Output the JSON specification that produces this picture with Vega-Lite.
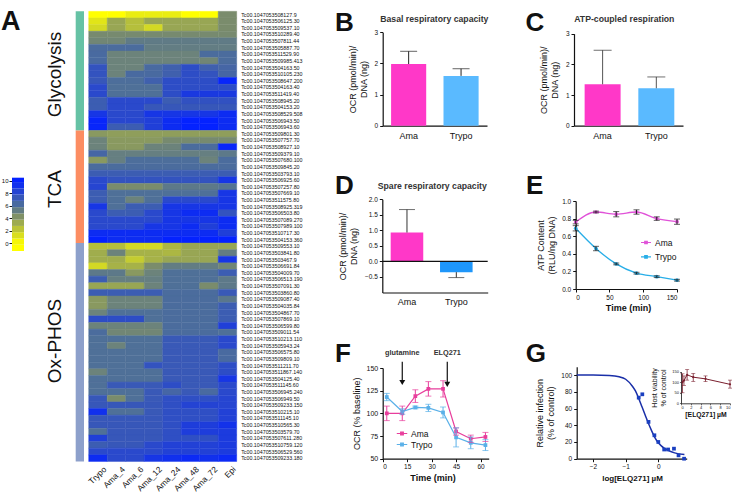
{"$schema":"https://vega.github.io/schema/vega-lite/v6.json","width":733,"height":493,"padding":0,"autosize":{"type":"none"},"background":"white",
"config":{"view":{"stroke":null},"font":"Liberation Sans","axis":{"grid":false,"domainColor":"#111","tickColor":"#111","labelColor":"#111","titleColor":"#111","labelFont":"Liberation Sans","titleFont":"Liberation Sans","titleFontWeight":"normal","labelFontWeight":"normal","titleFontSize":9,"labelFontSize":7,"tickSize":3,"domainWidth":1.2,"tickWidth":1},"legend":{"labelFont":"Liberation Sans","labelColor":"#111"},"text":{"font":"Liberation Sans","color":"#111"}},
"resolve":{"scale":{"x":"independent","y":"independent","color":"independent","stroke":"independent","shape":"independent"},"axis":{"x":"independent","y":"independent"},"legend":{"color":"independent"}},
"layer":[
{"data":{"values":[
{"g":"508127.9","c":"Trypo","v":0},{"g":"508127.9","c":"Ama_4","v":0},{"g":"508127.9","c":"Ama_6","v":0.7},{"g":"508127.9","c":"Ama_12","v":0.7},{"g":"508127.9","c":"Ama_24","v":0.7},{"g":"508127.9","c":"Ama_48","v":0},{"g":"508127.9","c":"Ama_72","v":0},{"g":"508127.9","c":"Epi","v":4.5},
{"g":"506125.30","c":"Trypo","v":1},{"g":"506125.30","c":"Ama_4","v":3.5},{"g":"506125.30","c":"Ama_6","v":2.5},{"g":"506125.30","c":"Ama_12","v":3.5},{"g":"506125.30","c":"Ama_24","v":3.5},{"g":"506125.30","c":"Ama_48","v":3.5},{"g":"506125.30","c":"Ama_72","v":3.5},{"g":"506125.30","c":"Epi","v":4.5},
{"g":"509537.10","c":"Trypo","v":1.5},{"g":"509537.10","c":"Ama_4","v":3.5},{"g":"509537.10","c":"Ama_6","v":2.5},{"g":"509537.10","c":"Ama_12","v":1.5},{"g":"509537.10","c":"Ama_24","v":3.5},{"g":"509537.10","c":"Ama_48","v":3.5},{"g":"509537.10","c":"Ama_72","v":3.5},{"g":"509537.10","c":"Epi","v":4.5},
{"g":"510289.40","c":"Trypo","v":4.6},{"g":"510289.40","c":"Ama_4","v":4.6},{"g":"510289.40","c":"Ama_6","v":4.6},{"g":"510289.40","c":"Ama_12","v":4.6},{"g":"510289.40","c":"Ama_24","v":4.6},{"g":"510289.40","c":"Ama_48","v":4.6},{"g":"510289.40","c":"Ama_72","v":4.6},{"g":"510289.40","c":"Epi","v":4.6},
{"g":"507811.44","c":"Trypo","v":4.8},{"g":"507811.44","c":"Ama_4","v":4.8},{"g":"507811.44","c":"Ama_6","v":5.4},{"g":"507811.44","c":"Ama_12","v":5.4},{"g":"507811.44","c":"Ama_24","v":5.4},{"g":"507811.44","c":"Ama_48","v":5.4},{"g":"507811.44","c":"Ama_72","v":5.4},{"g":"507811.44","c":"Epi","v":5.4},
{"g":"505887.70","c":"Trypo","v":6.2},{"g":"505887.70","c":"Ama_4","v":6.2},{"g":"505887.70","c":"Ama_6","v":6.2},{"g":"505887.70","c":"Ama_12","v":5.3},{"g":"505887.70","c":"Ama_24","v":5.3},{"g":"505887.70","c":"Ama_48","v":5.3},{"g":"505887.70","c":"Ama_72","v":5.3},{"g":"505887.70","c":"Epi","v":5.3},
{"g":"511529.90","c":"Trypo","v":6.3},{"g":"511529.90","c":"Ama_4","v":5},{"g":"511529.90","c":"Ama_6","v":5},{"g":"511529.90","c":"Ama_12","v":5},{"g":"511529.90","c":"Ama_24","v":5},{"g":"511529.90","c":"Ama_48","v":5},{"g":"511529.90","c":"Ama_72","v":6.2},{"g":"511529.90","c":"Epi","v":6.2},
{"g":"509985.413","c":"Trypo","v":6.3},{"g":"509985.413","c":"Ama_4","v":5},{"g":"509985.413","c":"Ama_6","v":5},{"g":"509985.413","c":"Ama_12","v":5},{"g":"509985.413","c":"Ama_24","v":5},{"g":"509985.413","c":"Ama_48","v":5},{"g":"509985.413","c":"Ama_72","v":4.8},{"g":"509985.413","c":"Epi","v":6.2},
{"g":"504163.50","c":"Trypo","v":7.5},{"g":"504163.50","c":"Ama_4","v":5},{"g":"504163.50","c":"Ama_6","v":5},{"g":"504163.50","c":"Ama_12","v":6.3},{"g":"504163.50","c":"Ama_24","v":6.8},{"g":"504163.50","c":"Ama_48","v":7.8},{"g":"504163.50","c":"Ama_72","v":6.8},{"g":"504163.50","c":"Epi","v":6.5},
{"g":"510105.230","c":"Trypo","v":7.5},{"g":"510105.230","c":"Ama_4","v":5},{"g":"510105.230","c":"Ama_6","v":6.3},{"g":"510105.230","c":"Ama_12","v":6.3},{"g":"510105.230","c":"Ama_24","v":6.8},{"g":"510105.230","c":"Ama_48","v":7.8},{"g":"510105.230","c":"Ama_72","v":7.5},{"g":"510105.230","c":"Epi","v":6.5},
{"g":"508647.200","c":"Trypo","v":7.3},{"g":"508647.200","c":"Ama_4","v":6.1},{"g":"508647.200","c":"Ama_6","v":6.1},{"g":"508647.200","c":"Ama_12","v":6.8},{"g":"508647.200","c":"Ama_24","v":7.8},{"g":"508647.200","c":"Ama_48","v":7.8},{"g":"508647.200","c":"Ama_72","v":7.8},{"g":"508647.200","c":"Epi","v":9.8},
{"g":"504163.40","c":"Trypo","v":8},{"g":"504163.40","c":"Ama_4","v":6},{"g":"504163.40","c":"Ama_6","v":6},{"g":"504163.40","c":"Ama_12","v":6},{"g":"504163.40","c":"Ama_24","v":7.8},{"g":"504163.40","c":"Ama_48","v":7.8},{"g":"504163.40","c":"Ama_72","v":7.8},{"g":"504163.40","c":"Epi","v":7.8},
{"g":"511419.40","c":"Trypo","v":8},{"g":"511419.40","c":"Ama_4","v":6},{"g":"511419.40","c":"Ama_6","v":6},{"g":"511419.40","c":"Ama_12","v":6},{"g":"511419.40","c":"Ama_24","v":7.8},{"g":"511419.40","c":"Ama_48","v":8.8},{"g":"511419.40","c":"Ama_72","v":8.8},{"g":"511419.40","c":"Epi","v":8.8},
{"g":"508945.20","c":"Trypo","v":7},{"g":"508945.20","c":"Ama_4","v":8},{"g":"508945.20","c":"Ama_6","v":8},{"g":"508945.20","c":"Ama_12","v":8},{"g":"508945.20","c":"Ama_24","v":7},{"g":"508945.20","c":"Ama_48","v":7.6},{"g":"508945.20","c":"Ama_72","v":7.6},{"g":"508945.20","c":"Epi","v":7.6},
{"g":"504153.20","c":"Trypo","v":7},{"g":"504153.20","c":"Ama_4","v":8},{"g":"504153.20","c":"Ama_6","v":8},{"g":"504153.20","c":"Ama_12","v":7.3},{"g":"504153.20","c":"Ama_24","v":7.3},{"g":"504153.20","c":"Ama_48","v":7.3},{"g":"504153.20","c":"Ama_72","v":7.3},{"g":"504153.20","c":"Epi","v":7.3},
{"g":"508529.508","c":"Trypo","v":9},{"g":"508529.508","c":"Ama_4","v":8},{"g":"508529.508","c":"Ama_6","v":8},{"g":"508529.508","c":"Ama_12","v":9},{"g":"508529.508","c":"Ama_24","v":9},{"g":"508529.508","c":"Ama_48","v":9},{"g":"508529.508","c":"Ama_72","v":9},{"g":"508529.508","c":"Epi","v":9.5},
{"g":"506943.50","c":"Trypo","v":9.8},{"g":"506943.50","c":"Ama_4","v":8.1},{"g":"506943.50","c":"Ama_6","v":8.1},{"g":"506943.50","c":"Ama_12","v":8.5},{"g":"506943.50","c":"Ama_24","v":9.5},{"g":"506943.50","c":"Ama_48","v":10},{"g":"506943.50","c":"Ama_72","v":10},{"g":"506943.50","c":"Epi","v":9.5},
{"g":"506943.60","c":"Trypo","v":9.8},{"g":"506943.60","c":"Ama_4","v":7},{"g":"506943.60","c":"Ama_6","v":7},{"g":"506943.60","c":"Ama_12","v":8.5},{"g":"506943.60","c":"Ama_24","v":9.5},{"g":"506943.60","c":"Ama_48","v":10},{"g":"506943.60","c":"Ama_72","v":10},{"g":"506943.60","c":"Epi","v":9.5},
{"g":"509801.30","c":"Trypo","v":4},{"g":"509801.30","c":"Ama_4","v":3.8},{"g":"509801.30","c":"Ama_6","v":3.8},{"g":"509801.30","c":"Ama_12","v":3.8},{"g":"509801.30","c":"Ama_24","v":3.8},{"g":"509801.30","c":"Ama_48","v":3.8},{"g":"509801.30","c":"Ama_72","v":3.8},{"g":"509801.30","c":"Epi","v":3.8},
{"g":"507757.70","c":"Trypo","v":5},{"g":"507757.70","c":"Ama_4","v":4},{"g":"507757.70","c":"Ama_6","v":4},{"g":"507757.70","c":"Ama_12","v":4},{"g":"507757.70","c":"Ama_24","v":4.6},{"g":"507757.70","c":"Ama_48","v":4.6},{"g":"507757.70","c":"Ama_72","v":4.6},{"g":"507757.70","c":"Epi","v":4.6},
{"g":"508927.10","c":"Trypo","v":5},{"g":"508927.10","c":"Ama_4","v":4},{"g":"508927.10","c":"Ama_6","v":4},{"g":"508927.10","c":"Ama_12","v":5},{"g":"508927.10","c":"Ama_24","v":5},{"g":"508927.10","c":"Ama_48","v":6.2},{"g":"508927.10","c":"Ama_72","v":6.2},{"g":"508927.10","c":"Epi","v":9.8},
{"g":"509379.10","c":"Trypo","v":6.5},{"g":"509379.10","c":"Ama_4","v":5.2},{"g":"509379.10","c":"Ama_6","v":5.2},{"g":"509379.10","c":"Ama_12","v":5.2},{"g":"509379.10","c":"Ama_24","v":5.2},{"g":"509379.10","c":"Ama_48","v":5.2},{"g":"509379.10","c":"Ama_72","v":5.2},{"g":"509379.10","c":"Epi","v":5.5},
{"g":"507680.100","c":"Trypo","v":4},{"g":"507680.100","c":"Ama_4","v":5.2},{"g":"507680.100","c":"Ama_6","v":6.1},{"g":"507680.100","c":"Ama_12","v":6.1},{"g":"507680.100","c":"Ama_24","v":6.1},{"g":"507680.100","c":"Ama_48","v":6.1},{"g":"507680.100","c":"Ama_72","v":5},{"g":"507680.100","c":"Epi","v":6.2},
{"g":"509845.20","c":"Trypo","v":6.2},{"g":"509845.20","c":"Ama_4","v":6.2},{"g":"509845.20","c":"Ama_6","v":6.2},{"g":"509845.20","c":"Ama_12","v":6.2},{"g":"509845.20","c":"Ama_24","v":6.2},{"g":"509845.20","c":"Ama_48","v":6.2},{"g":"509845.20","c":"Ama_72","v":6.2},{"g":"509845.20","c":"Epi","v":6.2},
{"g":"503793.10","c":"Trypo","v":7},{"g":"503793.10","c":"Ama_4","v":7},{"g":"503793.10","c":"Ama_6","v":7},{"g":"503793.10","c":"Ama_12","v":7},{"g":"503793.10","c":"Ama_24","v":7},{"g":"503793.10","c":"Ama_48","v":7},{"g":"503793.10","c":"Ama_72","v":7},{"g":"503793.10","c":"Epi","v":7},
{"g":"506925.60","c":"Trypo","v":8},{"g":"506925.60","c":"Ama_4","v":7.5},{"g":"506925.60","c":"Ama_6","v":7.5},{"g":"506925.60","c":"Ama_12","v":7.5},{"g":"506925.60","c":"Ama_24","v":7.5},{"g":"506925.60","c":"Ama_48","v":7.5},{"g":"506925.60","c":"Ama_72","v":7.5},{"g":"506925.60","c":"Epi","v":9},
{"g":"507257.80","c":"Trypo","v":8.2},{"g":"507257.80","c":"Ama_4","v":4.5},{"g":"507257.80","c":"Ama_6","v":4.5},{"g":"507257.80","c":"Ama_12","v":4.5},{"g":"507257.80","c":"Ama_24","v":5.5},{"g":"507257.80","c":"Ama_48","v":5.5},{"g":"507257.80","c":"Ama_72","v":5.5},{"g":"507257.80","c":"Epi","v":5.8},
{"g":"507669.10","c":"Trypo","v":7},{"g":"507669.10","c":"Ama_4","v":6},{"g":"507669.10","c":"Ama_6","v":6},{"g":"507669.10","c":"Ama_12","v":6},{"g":"507669.10","c":"Ama_24","v":6},{"g":"507669.10","c":"Ama_48","v":6},{"g":"507669.10","c":"Ama_72","v":6},{"g":"507669.10","c":"Epi","v":9},
{"g":"511575.80","c":"Trypo","v":7},{"g":"511575.80","c":"Ama_4","v":6},{"g":"511575.80","c":"Ama_6","v":5},{"g":"511575.80","c":"Ama_12","v":6},{"g":"511575.80","c":"Ama_24","v":8},{"g":"511575.80","c":"Ama_48","v":8},{"g":"511575.80","c":"Ama_72","v":8},{"g":"511575.80","c":"Epi","v":9},
{"g":"508925.319","c":"Trypo","v":9},{"g":"508925.319","c":"Ama_4","v":6},{"g":"508925.319","c":"Ama_6","v":7},{"g":"508925.319","c":"Ama_12","v":7},{"g":"508925.319","c":"Ama_24","v":9},{"g":"508925.319","c":"Ama_48","v":9},{"g":"508925.319","c":"Ama_72","v":9},{"g":"508925.319","c":"Epi","v":9},
{"g":"506503.80","c":"Trypo","v":8},{"g":"506503.80","c":"Ama_4","v":7},{"g":"506503.80","c":"Ama_6","v":7},{"g":"506503.80","c":"Ama_12","v":8},{"g":"506503.80","c":"Ama_24","v":9},{"g":"506503.80","c":"Ama_48","v":9.5},{"g":"506503.80","c":"Ama_72","v":9.5},{"g":"506503.80","c":"Epi","v":7.5},
{"g":"507089.270","c":"Trypo","v":8},{"g":"507089.270","c":"Ama_4","v":8},{"g":"507089.270","c":"Ama_6","v":8},{"g":"507089.270","c":"Ama_12","v":8},{"g":"507089.270","c":"Ama_24","v":9},{"g":"507089.270","c":"Ama_48","v":9},{"g":"507089.270","c":"Ama_72","v":9},{"g":"507089.270","c":"Epi","v":9.5},
{"g":"507989.100","c":"Trypo","v":8},{"g":"507989.100","c":"Ama_4","v":8},{"g":"507989.100","c":"Ama_6","v":8},{"g":"507989.100","c":"Ama_12","v":9},{"g":"507989.100","c":"Ama_24","v":9},{"g":"507989.100","c":"Ama_48","v":9.5},{"g":"507989.100","c":"Ama_72","v":8.5},{"g":"507989.100","c":"Epi","v":9.5},
{"g":"510717.30","c":"Trypo","v":9.5},{"g":"510717.30","c":"Ama_4","v":9.5},{"g":"510717.30","c":"Ama_6","v":9.5},{"g":"510717.30","c":"Ama_12","v":9.5},{"g":"510717.30","c":"Ama_24","v":9.5},{"g":"510717.30","c":"Ama_48","v":9.5},{"g":"510717.30","c":"Ama_72","v":9.5},{"g":"510717.30","c":"Epi","v":8.5},
{"g":"504153.360","c":"Trypo","v":10},{"g":"504153.360","c":"Ama_4","v":9.5},{"g":"504153.360","c":"Ama_6","v":9.5},{"g":"504153.360","c":"Ama_12","v":9.5},{"g":"504153.360","c":"Ama_24","v":10},{"g":"504153.360","c":"Ama_48","v":10},{"g":"504153.360","c":"Ama_72","v":10},{"g":"504153.360","c":"Epi","v":10},
{"g":"509553.10","c":"Trypo","v":2.5},{"g":"509553.10","c":"Ama_4","v":2.5},{"g":"509553.10","c":"Ama_6","v":1.5},{"g":"509553.10","c":"Ama_12","v":1.5},{"g":"509553.10","c":"Ama_24","v":2.8},{"g":"509553.10","c":"Ama_48","v":3.5},{"g":"509553.10","c":"Ama_72","v":3.5},{"g":"509553.10","c":"Epi","v":3.5},
{"g":"503841.80","c":"Trypo","v":3.2},{"g":"503841.80","c":"Ama_4","v":5},{"g":"503841.80","c":"Ama_6","v":3},{"g":"503841.80","c":"Ama_12","v":3},{"g":"503841.80","c":"Ama_24","v":2.8},{"g":"503841.80","c":"Ama_48","v":3.5},{"g":"503841.80","c":"Ama_72","v":3.5},{"g":"503841.80","c":"Epi","v":5.3},
{"g":"503467.9","c":"Trypo","v":3.2},{"g":"503467.9","c":"Ama_4","v":3.2},{"g":"503467.9","c":"Ama_6","v":2},{"g":"503467.9","c":"Ama_12","v":3},{"g":"503467.9","c":"Ama_24","v":3.5},{"g":"503467.9","c":"Ama_48","v":3.5},{"g":"503467.9","c":"Ama_72","v":3.5},{"g":"503467.9","c":"Epi","v":9},
{"g":"506691.84","c":"Trypo","v":1.5},{"g":"506691.84","c":"Ama_4","v":3},{"g":"506691.84","c":"Ama_6","v":3},{"g":"506691.84","c":"Ama_12","v":4.5},{"g":"506691.84","c":"Ama_24","v":5.3},{"g":"506691.84","c":"Ama_48","v":5.3},{"g":"506691.84","c":"Ama_72","v":5.3},{"g":"506691.84","c":"Epi","v":4.8},
{"g":"504009.70","c":"Trypo","v":5.5},{"g":"504009.70","c":"Ama_4","v":5.5},{"g":"504009.70","c":"Ama_6","v":4},{"g":"504009.70","c":"Ama_12","v":5},{"g":"504009.70","c":"Ama_24","v":6},{"g":"504009.70","c":"Ama_48","v":6},{"g":"504009.70","c":"Ama_72","v":6},{"g":"504009.70","c":"Epi","v":7},
{"g":"506513.190","c":"Trypo","v":7},{"g":"506513.190","c":"Ama_4","v":5.2},{"g":"506513.190","c":"Ama_6","v":5.2},{"g":"506513.190","c":"Ama_12","v":5.2},{"g":"506513.190","c":"Ama_24","v":6},{"g":"506513.190","c":"Ama_48","v":6},{"g":"506513.190","c":"Ama_72","v":6},{"g":"506513.190","c":"Epi","v":5.5},
{"g":"507091.30","c":"Trypo","v":3.5},{"g":"507091.30","c":"Ama_4","v":3.5},{"g":"507091.30","c":"Ama_6","v":3.5},{"g":"507091.30","c":"Ama_12","v":5},{"g":"507091.30","c":"Ama_24","v":6},{"g":"507091.30","c":"Ama_48","v":6},{"g":"507091.30","c":"Ama_72","v":4.5},{"g":"507091.30","c":"Epi","v":5.5},
{"g":"503860.80","c":"Trypo","v":7},{"g":"503860.80","c":"Ama_4","v":7},{"g":"503860.80","c":"Ama_6","v":7},{"g":"503860.80","c":"Ama_12","v":7},{"g":"503860.80","c":"Ama_24","v":6.2},{"g":"503860.80","c":"Ama_48","v":6.2},{"g":"503860.80","c":"Ama_72","v":6.2},{"g":"503860.80","c":"Epi","v":7.2},
{"g":"509087.40","c":"Trypo","v":4},{"g":"509087.40","c":"Ama_4","v":5},{"g":"509087.40","c":"Ama_6","v":5},{"g":"509087.40","c":"Ama_12","v":5},{"g":"509087.40","c":"Ama_24","v":6.2},{"g":"509087.40","c":"Ama_48","v":6.2},{"g":"509087.40","c":"Ama_72","v":6.2},{"g":"509087.40","c":"Epi","v":5.6},
{"g":"504035.84","c":"Trypo","v":4},{"g":"504035.84","c":"Ama_4","v":5},{"g":"504035.84","c":"Ama_6","v":5},{"g":"504035.84","c":"Ama_12","v":5},{"g":"504035.84","c":"Ama_24","v":6.2},{"g":"504035.84","c":"Ama_48","v":6.2},{"g":"504035.84","c":"Ama_72","v":6.2},{"g":"504035.84","c":"Epi","v":7},
{"g":"504867.70","c":"Trypo","v":5},{"g":"504867.70","c":"Ama_4","v":6},{"g":"504867.70","c":"Ama_6","v":6},{"g":"504867.70","c":"Ama_12","v":6},{"g":"504867.70","c":"Ama_24","v":6.2},{"g":"504867.70","c":"Ama_48","v":6.2},{"g":"504867.70","c":"Ama_72","v":6.2},{"g":"504867.70","c":"Epi","v":7},
{"g":"507869.10","c":"Trypo","v":7.8},{"g":"507869.10","c":"Ama_4","v":7.8},{"g":"507869.10","c":"Ama_6","v":7.8},{"g":"507869.10","c":"Ama_12","v":6},{"g":"507869.10","c":"Ama_24","v":6.2},{"g":"507869.10","c":"Ama_48","v":6.2},{"g":"507869.10","c":"Ama_72","v":6.2},{"g":"507869.10","c":"Epi","v":7},
{"g":"506599.80","c":"Trypo","v":5},{"g":"506599.80","c":"Ama_4","v":5},{"g":"506599.80","c":"Ama_6","v":5},{"g":"506599.80","c":"Ama_12","v":5},{"g":"506599.80","c":"Ama_24","v":6.2},{"g":"506599.80","c":"Ama_48","v":6.2},{"g":"506599.80","c":"Ama_72","v":6.2},{"g":"506599.80","c":"Epi","v":8.5},
{"g":"509011.54","c":"Trypo","v":6.2},{"g":"509011.54","c":"Ama_4","v":4.8},{"g":"509011.54","c":"Ama_6","v":4.8},{"g":"509011.54","c":"Ama_12","v":4.8},{"g":"509011.54","c":"Ama_24","v":6.2},{"g":"509011.54","c":"Ama_48","v":6.2},{"g":"509011.54","c":"Ama_72","v":6.2},{"g":"509011.54","c":"Epi","v":6},
{"g":"510213.110","c":"Trypo","v":6},{"g":"510213.110","c":"Ama_4","v":6},{"g":"510213.110","c":"Ama_6","v":6},{"g":"510213.110","c":"Ama_12","v":6},{"g":"510213.110","c":"Ama_24","v":7.2},{"g":"510213.110","c":"Ama_48","v":7.2},{"g":"510213.110","c":"Ama_72","v":7.2},{"g":"510213.110","c":"Epi","v":8},
{"g":"505943.24","c":"Trypo","v":6},{"g":"505943.24","c":"Ama_4","v":5},{"g":"505943.24","c":"Ama_6","v":6},{"g":"505943.24","c":"Ama_12","v":6},{"g":"505943.24","c":"Ama_24","v":7.2},{"g":"505943.24","c":"Ama_48","v":7.2},{"g":"505943.24","c":"Ama_72","v":7.2},{"g":"505943.24","c":"Epi","v":8},
{"g":"506575.80","c":"Trypo","v":6},{"g":"506575.80","c":"Ama_4","v":6},{"g":"506575.80","c":"Ama_6","v":6},{"g":"506575.80","c":"Ama_12","v":6},{"g":"506575.80","c":"Ama_24","v":7.2},{"g":"506575.80","c":"Ama_48","v":7.2},{"g":"506575.80","c":"Ama_72","v":7.2},{"g":"506575.80","c":"Epi","v":6.3},
{"g":"509809.10","c":"Trypo","v":6},{"g":"509809.10","c":"Ama_4","v":6},{"g":"509809.10","c":"Ama_6","v":6},{"g":"509809.10","c":"Ama_12","v":6},{"g":"509809.10","c":"Ama_24","v":7.2},{"g":"509809.10","c":"Ama_48","v":7.2},{"g":"509809.10","c":"Ama_72","v":7.2},{"g":"509809.10","c":"Epi","v":6.3},
{"g":"511211.70","c":"Trypo","v":6},{"g":"511211.70","c":"Ama_4","v":6},{"g":"511211.70","c":"Ama_6","v":6},{"g":"511211.70","c":"Ama_12","v":7.5},{"g":"511211.70","c":"Ama_24","v":7.2},{"g":"511211.70","c":"Ama_48","v":7.2},{"g":"511211.70","c":"Ama_72","v":7.2},{"g":"511211.70","c":"Epi","v":7.8},
{"g":"511867.140","c":"Trypo","v":5},{"g":"511867.140","c":"Ama_4","v":6},{"g":"511867.140","c":"Ama_6","v":6},{"g":"511867.140","c":"Ama_12","v":6},{"g":"511867.140","c":"Ama_24","v":7.2},{"g":"511867.140","c":"Ama_48","v":7.2},{"g":"511867.140","c":"Ama_72","v":7.2},{"g":"511867.140","c":"Epi","v":7.8},
{"g":"504125.40","c":"Trypo","v":6},{"g":"504125.40","c":"Ama_4","v":6},{"g":"504125.40","c":"Ama_6","v":6},{"g":"504125.40","c":"Ama_12","v":6},{"g":"504125.40","c":"Ama_24","v":7.2},{"g":"504125.40","c":"Ama_48","v":7.2},{"g":"504125.40","c":"Ama_72","v":7.2},{"g":"504125.40","c":"Epi","v":9},
{"g":"511145.60","c":"Trypo","v":6},{"g":"511145.60","c":"Ama_4","v":7.2},{"g":"511145.60","c":"Ama_6","v":7.2},{"g":"511145.60","c":"Ama_12","v":7.2},{"g":"511145.60","c":"Ama_24","v":7.8},{"g":"511145.60","c":"Ama_48","v":7.2},{"g":"511145.60","c":"Ama_72","v":7.2},{"g":"511145.60","c":"Epi","v":8},
{"g":"506945.240","c":"Trypo","v":6},{"g":"506945.240","c":"Ama_4","v":6},{"g":"506945.240","c":"Ama_6","v":6},{"g":"506945.240","c":"Ama_12","v":7.2},{"g":"506945.240","c":"Ama_24","v":6.5},{"g":"506945.240","c":"Ama_48","v":7.2},{"g":"506945.240","c":"Ama_72","v":6.3},{"g":"506945.240","c":"Epi","v":8},
{"g":"506949.50","c":"Trypo","v":7.3},{"g":"506949.50","c":"Ama_4","v":4.5},{"g":"506949.50","c":"Ama_6","v":6},{"g":"506949.50","c":"Ama_12","v":7.2},{"g":"506949.50","c":"Ama_24","v":7.7},{"g":"506949.50","c":"Ama_48","v":7.7},{"g":"506949.50","c":"Ama_72","v":7.7},{"g":"506949.50","c":"Epi","v":8.2},
{"g":"509233.150","c":"Trypo","v":7.3},{"g":"509233.150","c":"Ama_4","v":7.3},{"g":"509233.150","c":"Ama_6","v":7.3},{"g":"509233.150","c":"Ama_12","v":7.3},{"g":"509233.150","c":"Ama_24","v":7.7},{"g":"509233.150","c":"Ama_48","v":8.3},{"g":"509233.150","c":"Ama_72","v":8.3},{"g":"509233.150","c":"Epi","v":8.2},
{"g":"510215.10","c":"Trypo","v":9.3},{"g":"510215.10","c":"Ama_4","v":6},{"g":"510215.10","c":"Ama_6","v":6},{"g":"510215.10","c":"Ama_12","v":7.2},{"g":"510215.10","c":"Ama_24","v":7.7},{"g":"510215.10","c":"Ama_48","v":7.7},{"g":"510215.10","c":"Ama_72","v":7.7},{"g":"510215.10","c":"Epi","v":8.4},
{"g":"511145.10","c":"Trypo","v":7.3},{"g":"511145.10","c":"Ama_4","v":7.3},{"g":"511145.10","c":"Ama_6","v":7.3},{"g":"511145.10","c":"Ama_12","v":7.3},{"g":"511145.10","c":"Ama_24","v":7.7},{"g":"511145.10","c":"Ama_48","v":7.7},{"g":"511145.10","c":"Ama_72","v":7.7},{"g":"511145.10","c":"Epi","v":8.4},
{"g":"510565.30","c":"Trypo","v":7.3},{"g":"510565.30","c":"Ama_4","v":7.3},{"g":"510565.30","c":"Ama_6","v":7.3},{"g":"510565.30","c":"Ama_12","v":7.3},{"g":"510565.30","c":"Ama_24","v":7.7},{"g":"510565.30","c":"Ama_48","v":8.6},{"g":"510565.30","c":"Ama_72","v":8.6},{"g":"510565.30","c":"Epi","v":9.2},
{"g":"503579.70","c":"Trypo","v":6},{"g":"503579.70","c":"Ama_4","v":7.3},{"g":"503579.70","c":"Ama_6","v":7.3},{"g":"503579.70","c":"Ama_12","v":7.3},{"g":"503579.70","c":"Ama_24","v":7.7},{"g":"503579.70","c":"Ama_48","v":8.6},{"g":"503579.70","c":"Ama_72","v":8.6},{"g":"503579.70","c":"Epi","v":8.7},
{"g":"507611.280","c":"Trypo","v":8.5},{"g":"507611.280","c":"Ama_4","v":7.3},{"g":"507611.280","c":"Ama_6","v":7.3},{"g":"507611.280","c":"Ama_12","v":7.3},{"g":"507611.280","c":"Ama_24","v":7.7},{"g":"507611.280","c":"Ama_48","v":7.7},{"g":"507611.280","c":"Ama_72","v":7.7},{"g":"507611.280","c":"Epi","v":8.7},
{"g":"510759.120","c":"Trypo","v":7},{"g":"510759.120","c":"Ama_4","v":7.3},{"g":"510759.120","c":"Ama_6","v":7.3},{"g":"510759.120","c":"Ama_12","v":8},{"g":"510759.120","c":"Ama_24","v":8.4},{"g":"510759.120","c":"Ama_48","v":8.4},{"g":"510759.120","c":"Ama_72","v":8.4},{"g":"510759.120","c":"Epi","v":8.7},
{"g":"506529.560","c":"Trypo","v":8},{"g":"506529.560","c":"Ama_4","v":8},{"g":"506529.560","c":"Ama_6","v":8},{"g":"506529.560","c":"Ama_12","v":8},{"g":"506529.560","c":"Ama_24","v":8.4},{"g":"506529.560","c":"Ama_48","v":8.4},{"g":"506529.560","c":"Ama_72","v":8.4},{"g":"506529.560","c":"Epi","v":8.7},
{"g":"509233.180","c":"Trypo","v":9.5},{"g":"509233.180","c":"Ama_4","v":8},{"g":"509233.180","c":"Ama_6","v":8},{"g":"509233.180","c":"Ama_12","v":9},{"g":"509233.180","c":"Ama_24","v":9.3},{"g":"509233.180","c":"Ama_48","v":9.6},{"g":"509233.180","c":"Ama_72","v":9.3},{"g":"509233.180","c":"Epi","v":9.6}
]},"mark":{"type":"rect","strokeWidth":0.4},"encoding":{
"x":{"field":"c","type":"nominal","sort":null,"scale":{"range":[88.7,236.7],"paddingInner":0,"paddingOuter":0},"axis":{"orient":"bottom","offset":-31.5,"title":null,"labelAngle":-45,"labelAlign":"right","labelBaseline":"top","labelFontSize":8.3,"labelOffset":4,"labelPadding":3,"ticks":false,"domain":false}},
"y":{"field":"g","type":"nominal","sort":null,"scale":{"range":[11.3,461.5],"paddingInner":0,"paddingOuter":0},"axis":{"orient":"right","offset":-496.3,"title":null,"labelExpr":"'Tc00.1047053' + datum.label","labelFontSize":5.3,"labelOverlap":false,"labelPadding":4,"labelLimit":120,"ticks":false,"domain":false}},
"color":{"field":"v","type":"quantitative","scale":{"domain":[0,4.5,6,10],"range":["#ffff00","#7a8c6c","#4f7098","#0422ff"],"clamp":true,"interpolate":"rgb"},"legend":null},
"stroke":{"field":"v","type":"quantitative","scale":{"domain":[0,4.5,6,10],"range":["#ffff00","#7a8c6c","#4f7098","#0422ff"],"clamp":true,"interpolate":"rgb"},"legend":null}}},

{"data":{"values":[{"path":"Glycolysis","n0":0,"n1":18,"mid":9.55},{"path":"TCA","n0":18,"n1":35,"mid":26.85},{"path":"Ox-PHOS","n0":35,"n1":68,"mid":49.8}]},
"encoding":{"x":{"datum":0,"type":"quantitative","scale":{"domain":[0,1],"range":[75.7,84]},"axis":null},"y":{"field":"n0","type":"quantitative","scale":{"domain":[0,68],"range":[11.3,461.5]},"axis":null}},
"layer":[
{"mark":{"type":"rect"},"encoding":{"x2":{"datum":1},"y2":{"field":"n1"},"color":{"field":"path","type":"nominal","sort":null,"scale":{"range":["#66c2a5","#fc8d62","#8da0cb"]},"legend":null}}},
{"mark":{"type":"text","angle":270,"fontSize":19,"align":"center","baseline":"middle"},"encoding":{"x":{"datum":-2.5,"type":"quantitative","axis":null},"y":{"field":"mid","type":"quantitative","axis":null},"text":{"field":"path"}}},
{"data":{"values":[{"t":"A","n0":0}]},"mark":{"type":"text","align":"left","fontSize":27,"fontWeight":"bold","dx":-74.7,"dy":10.7},"encoding":{"text":{"field":"t"}}}
]},

{"data":{"values":[{"v":0,"v0":-1.2,"v1":-0.2},{"v":0.3,"v0":-0.2,"v1":0.8},{"v":1.3,"v0":0.8,"v1":1.8},{"v":2.3,"v0":1.8,"v1":2.8},{"v":3.3,"v0":2.8,"v1":3.8},{"v":4.3,"v0":3.8,"v1":4.8},{"v":5.3,"v0":4.8,"v1":5.8},{"v":6.3,"v0":5.8,"v1":6.8},{"v":7.3,"v0":6.8,"v1":7.8},{"v":8.3,"v0":7.8,"v1":8.8},{"v":9.3,"v0":8.8,"v1":9.8},{"v":10,"v0":9.8,"v1":10.5}]},
"mark":{"type":"rect"},"encoding":{"x":{"datum":0,"type":"quantitative","scale":{"domain":[0,1],"range":[12,24]},"axis":null},"x2":{"datum":1},"y":{"field":"v0","type":"quantitative","scale":{"domain":[-1.2,10.5],"range":[251,177.7]},"axis":{"orient":"left","offset":-12,"title":null,"values":[0,2,4,6,8,10],"labelFontSize":6,"domain":false,"tickSize":3,"labelPadding":1}},"y2":{"field":"v1"},
"color":{"field":"v","type":"quantitative","scale":{"domain":[0,4.5,6,10],"range":["#ffff00","#7a8c6c","#4f7098","#0422ff"],"clamp":true,"interpolate":"rgb"},"legend":null}}},

{"data":{"values":[{"cell":"Ama","ocr":1.98},{"cell":"Trypo","ocr":1.6}]},"mark":{"type":"bar"},
"encoding":{"x":{"field":"cell","type":"nominal","scale":{"range":[382.7,487],"paddingInner":0.33,"paddingOuter":0.16},"axis":{"orient":"bottom","offset":-367.3,"title":null,"labelAngle":0,"labelFontSize":9,"labelPadding":6,"ticks":false}},
"y":{"field":"ocr","type":"quantitative","scale":{"domain":[0,3],"range":[125.7,32.3]},"axis":{"orient":"left","offset":-382.7,"values":[0,1,2,3],"title":["OCR (pmol/min)/","DNA (ng)"],"titlePadding":6,"labelFontSize":6.5}},
"color":{"field":"cell","type":"nominal","scale":{"range":["#ff38c8","#5abaff"]},"legend":null}}},
{"data":{"values":[{"cell":"Ama","ocr":1.98,"hi":2.39},{"cell":"Trypo","ocr":1.6,"hi":1.83}]},
"encoding":{"x":{"field":"cell","type":"nominal","scale":{"range":[382.7,487],"paddingInner":0.33,"paddingOuter":0.16},"axis":null},"y":{"field":"ocr","type":"quantitative","scale":{"domain":[0,3],"range":[125.7,32.3]},"axis":null}},
"layer":[
{"mark":{"type":"rule","color":"#222","strokeWidth":1},"encoding":{"y2":{"field":"hi"}}},
{"mark":{"type":"tick","orient":"horizontal","size":17,"thickness":1,"color":"#222"},"encoding":{"y":{"field":"hi","type":"quantitative","axis":null}}},
{"data":{"values":[{"t":"B","cell":"Ama","ocr":3}]},"mark":{"type":"text","align":"left","fontSize":26,"fontWeight":"bold","dx":-73.6,"dy":-9.7},"encoding":{"text":{"field":"t"}}},
{"data":{"values":[{"t":"Basal respiratory capacity","cell":"Ama","ocr":3}]},"mark":{"type":"text","align":"center","fontSize":8.7,"fontWeight":"bold","dx":25.7,"dy":-13.3,"color":"#333"},"encoding":{"text":{"field":"t"}}}
]},

{"data":{"values":[{"cell":"Ama","ocr":1.35},{"cell":"Trypo","ocr":1.22}]},"mark":{"type":"bar"},
"encoding":{"x":{"field":"cell","type":"nominal","scale":{"range":[574,683],"paddingInner":0.33,"paddingOuter":0.18,"align":0.55},"axis":{"orient":"bottom","offset":-367.3,"title":null,"labelAngle":0,"labelFontSize":9,"labelPadding":6,"ticks":false}},
"y":{"field":"ocr","type":"quantitative","scale":{"domain":[0,3],"range":[125.7,33.7]},"axis":{"orient":"left","offset":-574,"values":[0,1,2,3],"title":["OCR (pmol/min)/","DNA (ng)"],"titlePadding":6,"labelFontSize":6.5}},
"color":{"field":"cell","type":"nominal","scale":{"range":["#ff38c8","#5abaff"]},"legend":null}}},
{"data":{"values":[{"cell":"Ama","ocr":1.35,"hi":2.46},{"cell":"Trypo","ocr":1.22,"hi":1.59}]},
"encoding":{"x":{"field":"cell","type":"nominal","scale":{"range":[574,683],"paddingInner":0.33,"paddingOuter":0.18,"align":0.55},"axis":null},"y":{"field":"ocr","type":"quantitative","scale":{"domain":[0,3],"range":[125.7,33.7]},"axis":null}},
"layer":[
{"mark":{"type":"rule","color":"#555","strokeWidth":1},"encoding":{"y2":{"field":"hi"}}},
{"mark":{"type":"tick","orient":"horizontal","size":18,"thickness":1,"color":"#333"},"encoding":{"y":{"field":"hi","type":"quantitative","axis":null}}},
{"data":{"values":[{"t":"C","cell":"Ama","ocr":3}]},"mark":{"type":"text","align":"left","fontSize":26,"fontWeight":"bold","dx":-77,"dy":-11},"encoding":{"text":{"field":"t"}}},
{"data":{"values":[{"t":"ATP-coupled respiration","cell":"Ama","ocr":3}]},"mark":{"type":"text","align":"center","fontSize":8.7,"fontWeight":"bold","dx":21.7,"dy":-14.7,"color":"#333"},"encoding":{"text":{"field":"t"}}}
]},

{"data":{"values":[{"cell":"Ama","ocr":0.93},{"cell":"Trypo","ocr":-0.345}]},"mark":{"type":"bar"},
"encoding":{"x":{"field":"cell","type":"nominal","scale":{"range":[382.3,487.7],"paddingInner":0.34,"paddingOuter":0.238,"align":0.357},"axis":{"orient":"bottom","offset":-200.5,"title":null,"labelAngle":0,"labelFontSize":9,"labelPadding":5,"ticks":false}},
"y":{"field":"ocr","type":"quantitative","scale":{"domain":[-1,2],"range":[292.5,199.3]},"axis":{"orient":"left","offset":-382.3,"values":[-0.5,0,0.5,1,1.5,2],"format":".1f","title":["OCR (pmol/min)/","DNA (ng)"],"titlePadding":6,"labelFontSize":6.5}},
"color":{"field":"cell","type":"nominal","scale":{"range":["#ff38c8","#1e96fa"]},"legend":null}}},
{"data":{"values":[{"cell":"Ama","ocr":0.93,"hi":1.67},{"cell":"Trypo","ocr":-0.345,"hi":-0.52}]},
"encoding":{"x":{"field":"cell","type":"nominal","scale":{"range":[382.3,487.7],"paddingInner":0.34,"paddingOuter":0.238,"align":0.357},"axis":null},"y":{"field":"ocr","type":"quantitative","scale":{"domain":[-1,2],"range":[292.5,199.3]},"axis":null}},
"layer":[
{"mark":{"type":"rule","color":"#333","strokeWidth":1},"encoding":{"y2":{"field":"hi"}}},
{"mark":{"type":"tick","orient":"horizontal","size":16,"thickness":1,"color":"#333"},"encoding":{"y":{"field":"hi","type":"quantitative","axis":null}}},
{"data":{"values":[{"t":"D","cell":"Ama","ocr":2}]},"mark":{"type":"text","align":"left","fontSize":26,"fontWeight":"bold","dx":-72,"dy":-13.3},"encoding":{"text":{"field":"t"}}},
{"data":{"values":[{"t":"Spare respiratory capacity","cell":"Ama","ocr":2}]},"mark":{"type":"text","align":"center","fontSize":8.7,"fontWeight":"bold","dx":25.3,"dy":-13.8,"color":"#333"},"encoding":{"text":{"field":"t"}}}
]},
{"data":{"values":[{"base":0}]},"mark":{"type":"rule","color":"#111","strokeWidth":1.2},"encoding":{"x":{"datum":0,"type":"quantitative","scale":{"domain":[0,1],"range":[382.3,487.7]},"axis":null},"x2":{"datum":1},"y":{"field":"base","type":"quantitative","scale":{"domain":[-1,2],"range":[292.5,199.3]},"axis":null}}},

{"data":{"values":[{"time":0,"cell":"Ama","atp":0.76},{"time":30,"cell":"Ama","atp":0.875},{"time":60,"cell":"Ama","atp":0.85},{"time":90,"cell":"Ama","atp":0.875},{"time":120,"cell":"Ama","atp":0.8},{"time":150,"cell":"Ama","atp":0.765},{"time":0,"cell":"Trypo","atp":0.69},{"time":30,"cell":"Trypo","atp":0.46},{"time":60,"cell":"Trypo","atp":0.285},{"time":90,"cell":"Trypo","atp":0.18},{"time":120,"cell":"Trypo","atp":0.14},{"time":150,"cell":"Trypo","atp":0.1}]},
"mark":{"type":"line","interpolate":"monotone","strokeWidth":1.3,"point":{"filled":true,"size":14}},
"encoding":{"x":{"field":"time","type":"quantitative","scale":{"domain":[0,150],"range":[575.7,677]},"axis":{"orient":"bottom","offset":-204,"values":[0,50,100,150],"title":"Time (min)","titleFontWeight":"bold","titlePadding":3,"titleX":628,"labelFontSize":6.5}},
"y":{"field":"atp","type":"quantitative","scale":{"domain":[0,1],"range":[289,201]},"axis":{"orient":"left","offset":-575.7,"values":[0,0.2,0.4,0.6,0.8,1],"format":".1f","title":["ATP Content","(RLU/ng DNA)"],"titlePadding":5,"labelFontSize":6.5}},
"color":{"field":"cell","type":"nominal","scale":{"range":["#e052d8","#28aee8"]},"legend":{"orient":"none","legendX":640,"legendY":236.5,"title":null,"labelFontSize":8.5,"symbolType":"M-1,0H1M-0.25,-0.25H0.25V0.25H-0.25Z","symbolSize":100,"rowPadding":3.3,"symbolStrokeWidth":1.2,"labelOffset":3}}}},
{"data":{"values":[{"time":0,"lo":0.74,"hi":0.78},{"time":30,"lo":0.865,"hi":0.885},{"time":60,"lo":0.82,"hi":0.88},{"time":90,"lo":0.85,"hi":0.9},{"time":120,"lo":0.78,"hi":0.82},{"time":150,"lo":0.735,"hi":0.795},{"time":0,"lo":0.66,"hi":0.72},{"time":30,"lo":0.435,"hi":0.485},{"time":60,"lo":0.275,"hi":0.295},{"time":90,"lo":0.17,"hi":0.19},{"time":120,"lo":0.13,"hi":0.15},{"time":150,"lo":0.09,"hi":0.11}]},
"encoding":{"x":{"field":"time","type":"quantitative","scale":{"domain":[0,150],"range":[575.7,677]},"axis":null},"y":{"field":"lo","type":"quantitative","scale":{"domain":[0,1],"range":[289,201]},"axis":null}},
"layer":[
{"mark":{"type":"rule","color":"#222","strokeWidth":1},"encoding":{"y2":{"field":"hi"}}},
{"mark":{"type":"tick","orient":"horizontal","size":6,"thickness":1,"color":"#222"}},
{"mark":{"type":"tick","orient":"horizontal","size":6,"thickness":1,"color":"#222"},"encoding":{"y":{"field":"hi","type":"quantitative","axis":null}}},
{"data":{"values":[{"t":"E","time":0,"lo":1}]},"mark":{"type":"text","align":"left","fontSize":26,"fontWeight":"bold","dx":-49.7,"dy":-15},"encoding":{"text":{"field":"t"}}}
]},

{"data":{"values":[{"time":2.5,"cell":"Ama","ocr":100},{"time":12,"cell":"Ama","ocr":100},{"time":20,"cell":"Ama","ocr":119},{"time":28,"cell":"Ama","ocr":127},{"time":37,"cell":"Ama","ocr":127},{"time":45,"cell":"Ama","ocr":80},{"time":54,"cell":"Ama","ocr":72},{"time":63,"cell":"Ama","ocr":74},{"time":2.5,"cell":"Trypo","ocr":118},{"time":12,"cell":"Trypo","ocr":102},{"time":20,"cell":"Trypo","ocr":106.5},{"time":28,"cell":"Trypo","ocr":106},{"time":37,"cell":"Trypo","ocr":101},{"time":45,"cell":"Trypo","ocr":73.5},{"time":54,"cell":"Trypo","ocr":67.5},{"time":63,"cell":"Trypo","ocr":65}]},
"mark":{"type":"line","strokeWidth":1.2,"point":{"shape":"square","filled":true,"size":14}},
"encoding":{"x":{"field":"time","type":"quantitative","scale":{"domain":[0,65],"range":[382.7,488.7]},"axis":{"orient":"bottom","offset":-34.3,"values":[0,15,30,45,60],"title":"Time (min)","titleFontWeight":"bold","titlePadding":3,"titleX":432.5,"labelFontSize":6.5}},
"y":{"field":"ocr","type":"quantitative","scale":{"domain":[50,150],"range":[458.7,368]},"axis":{"orient":"left","offset":-382.7,"values":[50,75,100,125,150],"title":"OCR (% baseline)","titlePadding":5,"labelFontSize":7}},
"color":{"field":"cell","type":"nominal","scale":{"range":["#e83e9c","#5ab0e8"]},"legend":{"orient":"none","legendX":396,"legendY":427.5,"title":null,"labelFontSize":8.5,"symbolType":"M-1,0H1M-0.25,-0.25H0.25V0.25H-0.25Z","symbolSize":110,"rowPadding":0,"symbolStrokeWidth":1.2,"labelOffset":3}}}},
{"data":{"values":[{"time":2.5,"cell":"Ama","lo":92,"hi":108},{"time":12,"cell":"Ama","lo":92,"hi":108},{"time":20,"cell":"Ama","lo":112,"hi":126},{"time":28,"cell":"Ama","lo":119,"hi":135},{"time":37,"cell":"Ama","lo":118,"hi":136},{"time":45,"cell":"Ama","lo":76,"hi":84},{"time":54,"cell":"Ama","lo":68,"hi":76},{"time":63,"cell":"Ama","lo":69,"hi":79},{"time":2.5,"cell":"Trypo","lo":114,"hi":122},{"time":12,"cell":"Trypo","lo":99,"hi":105},{"time":20,"cell":"Trypo","lo":105,"hi":108},{"time":28,"cell":"Trypo","lo":102,"hi":110},{"time":37,"cell":"Trypo","lo":95,"hi":107},{"time":45,"cell":"Trypo","lo":63,"hi":84},{"time":54,"cell":"Trypo","lo":61,"hi":74},{"time":63,"cell":"Trypo","lo":59,"hi":71}]},
"encoding":{"x":{"field":"time","type":"quantitative","scale":{"domain":[0,65],"range":[382.7,488.7]},"axis":null},"y":{"field":"lo","type":"quantitative","scale":{"domain":[50,150],"range":[458.7,368]},"axis":null},
"color":{"field":"cell","type":"nominal","scale":{"range":["#e83e9c","#5ab0e8"]},"legend":null}},
"layer":[
{"mark":{"type":"rule","strokeWidth":1},"encoding":{"y2":{"field":"hi"}}},
{"mark":{"type":"tick","orient":"horizontal","size":6,"thickness":1}},
{"mark":{"type":"tick","orient":"horizontal","size":6,"thickness":1},"encoding":{"y":{"field":"hi","type":"quantitative","axis":null}}},
{"data":{"values":[{"label":"glutamine","time":12,"lo":157,"tip":134},{"label":"ELQ271","time":39.6,"lo":157,"tip":132}]},"layer":[
{"mark":{"type":"rule","strokeWidth":1.2},"encoding":{"color":{"value":"#111"},"y2":{"field":"tip"}}},
{"mark":{"type":"point","shape":"triangle-down","filled":true,"size":35,"opacity":1},"encoding":{"color":{"value":"#111"},"y":{"field":"tip","type":"quantitative","axis":null}}},
{"mark":{"type":"text","fontSize":7.3,"fontWeight":"bold","dy":-9},"encoding":{"color":{"value":"#333"},"text":{"field":"label"}}}
]},
{"data":{"values":[{"t":"F","time":0,"lo":150}]},"mark":{"type":"text","align":"left","fontSize":26,"fontWeight":"bold","dx":-47.7,"dy":-14},"encoding":{"color":{"value":"#111"},"text":{"field":"t"}}}
]},

{"data":{"values":[{"logc":-2.5,"infection":100},{"logc":-2,"infection":100},{"logc":-1.5,"infection":99.5},{"logc":-1.2,"infection":98},{"logc":-1,"infection":95},{"logc":-0.8,"infection":87},{"logc":-0.7,"infection":81},{"logc":-0.6,"infection":72},{"logc":-0.5,"infection":62},{"logc":-0.4,"infection":52},{"logc":-0.3,"infection":42},{"logc":-0.2,"infection":33},{"logc":-0.1,"infection":25},{"logc":0,"infection":19},{"logc":0.1,"infection":15},{"logc":0.2,"infection":12},{"logc":0.3,"infection":10},{"logc":0.5,"infection":7},{"logc":0.8,"infection":5}]},"mark":{"type":"line","interpolate":"monotone","color":"#1a2fa8","strokeWidth":1.5},
"encoding":{"x":{"field":"logc","type":"quantitative","scale":{"domain":[-2.5,0.87],"range":[576.7,686.7]},"axis":{"orient":"bottom","offset":-34.3,"values":[-2,-1,0],"title":"log[ELQ271] µM","titleFontWeight":"bold","titleFontSize":8,"titlePadding":4,"titleX":632,"labelFontSize":6.5}},
"y":{"field":"infection","type":"quantitative","scale":{"domain":[0,110],"range":[458.7,366.7]},"axis":{"orient":"left","offset":-576.7,"values":[0,20,40,60,80,100],"title":["Relative infection","(% of control)"],"titlePadding":5,"labelFontSize":6.5}}}},
{"encoding":{"x":{"field":"logc","type":"quantitative","scale":{"domain":[-2.5,0.87],"range":[576.7,686.7]},"axis":null},"y":{"field":"infection","type":"quantitative","scale":{"domain":[0,110],"range":[458.7,366.7]},"axis":null}},
"layer":[
{"data":{"values":[{"logc":-0.6,"infection":73},{"logc":-0.49,"infection":77},{"logc":-0.3,"infection":44},{"logc":-0.12,"infection":28},{"logc":0,"infection":20},{"logc":0.18,"infection":11},{"logc":0.3,"infection":11},{"logc":0.48,"infection":12},{"logc":0.62,"infection":4},{"logc":0.79,"infection":0}]},"mark":{"type":"point","shape":"square","filled":true,"size":14,"color":"#1a3fc0","opacity":1}},
{"data":{"values":[{"t":"G","logc":-2,"infection":100}]},"mark":{"type":"text","align":"left","fontSize":26,"fontWeight":"bold","dx":-67.3,"dy":-21},"encoding":{"text":{"field":"t"}}}
]},

{"data":{"values":[{"conc":0.3,"viability":100},{"conc":0.6,"viability":108},{"conc":1.25,"viability":135},{"conc":2.5,"viability":124},{"conc":5,"viability":116},{"conc":10,"viability":90}]},
"mark":{"type":"line","strokeWidth":1,"color":"#7a1f2e","point":{"filled":true,"size":5,"color":"#7a1f2e"}},
"encoding":{"x":{"field":"conc","type":"quantitative","scale":{"domain":[0,10],"range":[681,730]},"axis":{"orient":"bottom","offset":-89.7,"values":[0,2,4,6,8,10],"title":"[ELQ271] µM","titleFontSize":6.8,"titleFontWeight":"bold","titlePadding":2,"labelFontSize":4,"tickSize":1.5,"domainWidth":0.8,"tickWidth":0.6,"labelPadding":1}},
"y":{"field":"viability","type":"quantitative","scale":{"domain":[0,150],"range":[403.3,371.7]},"axis":{"orient":"left","offset":-681,"values":[0,50,100,150],"title":["Host viability","% of control"],"titleFontSize":7,"titlePadding":5,"labelFontSize":4,"tickSize":1.5,"domainWidth":0.8,"tickWidth":0.6,"labelPadding":1}}}},
{"data":{"values":[{"conc":0.3,"lo":50,"hi":140},{"conc":0.6,"lo":85,"hi":130},{"conc":1.25,"lo":110,"hi":160},{"conc":2.5,"lo":104,"hi":142},{"conc":5,"lo":103,"hi":130},{"conc":10,"lo":72,"hi":110}]},
"encoding":{"x":{"field":"conc","type":"quantitative","scale":{"domain":[0,10],"range":[681,730]},"axis":null},"y":{"field":"lo","type":"quantitative","scale":{"domain":[0,150],"range":[403.3,371.7]},"axis":null}},
"layer":[
{"mark":{"type":"rule","strokeWidth":0.8,"color":"#7a1f2e"},"encoding":{"y2":{"field":"hi"}}},
{"mark":{"type":"tick","orient":"horizontal","size":4,"thickness":0.8,"color":"#7a1f2e"}},
{"mark":{"type":"tick","orient":"horizontal","size":4,"thickness":0.8,"color":"#7a1f2e"},"encoding":{"y":{"field":"hi","type":"quantitative","axis":null}}}
]}
]}
